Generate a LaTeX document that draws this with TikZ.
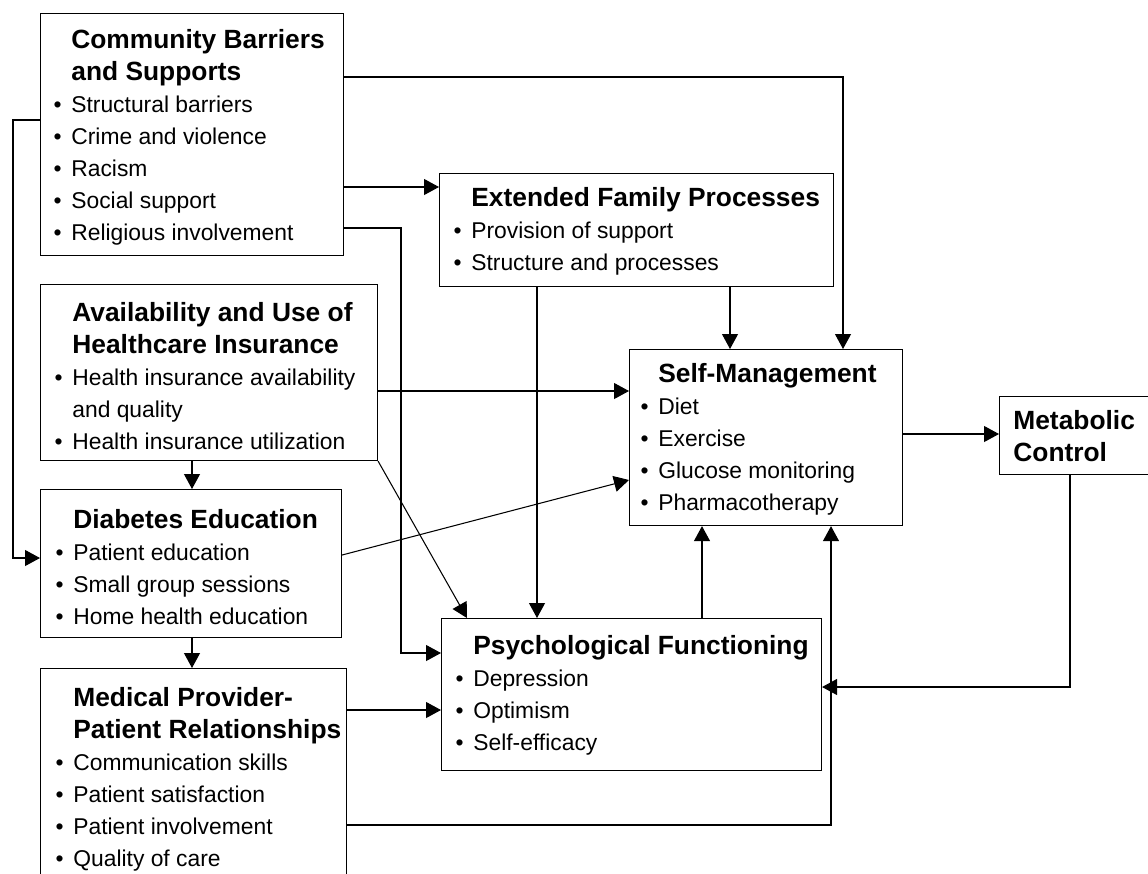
\documentclass[tikz,border=0pt]{standalone}
\usepackage{fontspec}
\setmainfont{Liberation Sans}
\usetikzlibrary{arrows.meta}

\newcommand{\ttl}[1]{{\fontsize{15}{18.2}\selectfont\bfseries #1}}
\newcommand{\bul}{\llap{\textbullet\hspace{5.5pt}}}

\tikzset{
  box/.style={draw, line width=0.65pt, inner sep=0pt, anchor=north west},
  txt/.style={anchor=north west, inner sep=0pt, align=left, font=\fontsize{13}{18.2}\selectfont},
  arr/.style={line width=0.6pt, -{Triangle[length=0.3cm, width=0.32cm]}}
}

\begin{document}
\begin{tikzpicture}[x=0.02cm, y=-0.02cm]
  \useasboundingbox (0,0) rectangle (1148,873);

  % Define the boxes
  \node[box, minimum width=6.06cm, minimum height=4.84cm] (CB) at (40,13) {};
  \node[box, minimum width=7.88cm, minimum height=2.26cm] (EF) at (439,173) {};
  \node[box, minimum width=6.74cm, minimum height=3.52cm] (AU) at (40,284) {};
  \node[box, minimum width=5.46cm, minimum height=3.52cm] (SM) at (629,349) {};
  \node[box, minimum width=3.30cm, minimum height=1.56cm] (MC) at (999,396) {};
  \node[box, minimum width=6.02cm, minimum height=2.96cm] (DE) at (40,489) {};
  \node[box, minimum width=7.60cm, minimum height=3.04cm] (PF) at (441,618) {};
  \node[box, minimum width=6.12cm, minimum height=4.40cm] (MP) at (40,668) {};

  % Box texts
  \node[txt] (CBtxt) at (71,29) {\ttl{Community Barriers}\\ \ttl{and Supports}\\
    \bul Structural barriers\\ \bul Crime and violence\\ \bul Racism\\
    \bul Social support\\ \bul Religious involvement};
  \node[txt] (EFtxt) at (471,187) {\ttl{Extended Family Processes}\\
    \bul Provision of support\\ \bul Structure and processes};
  \node[txt] (AUtxt) at (72,302) {\ttl{Availability and Use of}\\ \ttl{Healthcare Insurance}\\
    \bul Health insurance availability\\ and quality\\ \bul Health insurance utilization};
  \node[txt] (SMtxt) at (658,363) {\ttl{Self-Management}\\ \bul Diet\\ \bul Exercise\\
    \bul Glucose monitoring\\ \bul Pharmacotherapy};
  \node[txt] (MCtxt) at (1013,410) {\ttl{Metabolic}\\ \ttl{Control}};
  \node[txt] (DEtxt) at (73,509) {\ttl{Diabetes Education}\\ \bul Patient education\\
    \bul Small group sessions\\ \bul Home health education};
  \node[txt] (PFtxt) at (473,635) {\ttl{Psychological Functioning}\\ \bul Depression\\
    \bul Optimism\\ \bul Self-efficacy};
  \node[txt] (MPtxt) at (73,687) {\ttl{Medical Provider-}\\ \ttl{Patient Relationships}\\
    \bul Communication skills\\ \bul Patient satisfaction\\ \bul Patient involvement\\
    \bul Quality of care};

  % Define the arrows
  \draw[arr] (CB.east |- 0,77) -| (SM.north -| 843,0);
  \draw[arr] (CB.east |- 0,187) -- (EF.west |- 0,187);
  \draw[arr] (CB.east |- 0,228) -- (401,228) |- (PF.west |- 0,653);
  \draw[arr] (CB.west |- 0,120) -- (13,120) |- (DE.west |- 0,558);
  \draw[arr] (EF.south -| 537,0) -- (PF.north -| 537,0);
  \draw[arr] (EF.south -| 730,0) -- (SM.north -| 730,0);
  \draw[arr] (AU.east |- 0,391) -- (SM.west |- 0,391);
  \draw[arr] (AU.south east) -- (PF.north -| 467,0);
  \draw[arr] (AU.south -| 192,0) -- (DE.north -| 192,0);
  \draw[arr] (DE.east |- 0,555) -- (SM.west |- 0,480);
  \draw[arr] (DE.south -| 192,0) -- (MP.north -| 192,0);
  \draw[arr] (MP.east |- 0,710) -- (PF.west |- 0,710);
  \draw[arr] (MP.east |- 0,825) -| (SM.south -| 831,0);
  \draw[arr] (PF.north -| 702,0) -- (SM.south -| 702,0);
  \draw[arr] (SM.east |- 0,434) -- (MC.west |- 0,434);
  \draw[arr] (MC.south -| 1070,0) |- (PF.east |- 0,687);
\end{tikzpicture}
\end{document}
